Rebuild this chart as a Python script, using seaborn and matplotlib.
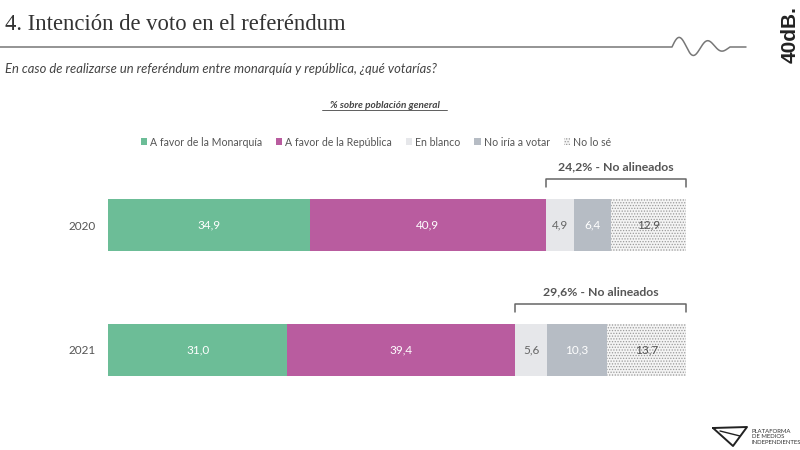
import matplotlib
matplotlib.use("Agg")
import matplotlib.pyplot as plt
from matplotlib.patches import Patch
from matplotlib.lines import Line2D
import numpy as np
import pandas as pd
import seaborn as sns

# data
years = ["2020", "2021"]
categories = ["A favor de la Monarquía", "A favor de la República", "En blanco",
              "No iría a votar", "No lo sé"]
monarquia = [34.9, 31.0]
republica = [40.9, 39.4]
en_blanco = [4.9, 5.6]
no_votar = [6.4, 10.3]
no_sabe = [12.9, 13.7]

colors = ["#6cbd97", "#b95c9f", "#e6e7ea", "#b6bcc4", "#f4f4f4"]
text_colors = ["white", "white", "#666666", "white", "#555555"]

sns.set_theme(style="white")
plt.rcParams["font.family"] = ["Lato", "DejaVu Sans"]
plt.rcParams["hatch.linewidth"] = 0.6

series = [monarquia, republica, en_blanco, no_votar, no_sabe]
vals = np.array(series)
cum = np.cumsum(vals, axis=0)

fig = plt.figure(figsize=(8, 4.5), dpi=100)
ax = fig.add_axes([108 / 800, 1 - 400 / 450, 578 / 800, 240 / 450])

# stacked bars: draw cumulative totals from the outside in
for i in range(len(categories) - 1, -1, -1):
    df = pd.DataFrame({"year": years, "value": cum[i]})
    sns.barplot(data=df, x="value", y="year", orient="h", color=colors[i],
                width=0.42, saturation=1, ax=ax)
    if i == len(categories) - 1:
        for p in ax.patches:
            p.set_hatch("......")
            p.set_edgecolor("#9a9a9a")

for p in ax.patches:
    p.set_linewidth(0)

# value labels
for j in range(len(years)):
    for i in range(len(categories)):
        left = cum[i, j] - vals[i, j]
        ax.text(left + vals[i, j] / 2, j, f"{vals[i, j]:.1f}".replace(".", ","),
                ha="center", va="center", fontsize=8.5, color=text_colors[i])

# "No alineados" brackets
for j in range(len(years)):
    start = cum[1, j]
    end = cum[-1, j]
    total = vals[2:, j].sum()
    ytop = j - 0.37
    ax.plot([start, start, end, end], [ytop + 0.065, ytop, ytop, ytop + 0.065],
            color="#666666", lw=1.1, clip_on=False)
    ax.text((start + end) / 2, ytop - 0.05, f"{total:.1f}".replace(".", ",") + "% - No alineados",
            ha="center", va="bottom", fontsize=8.8, fontweight="bold", color="#555555")

ax.set_xlim(0, 100)
ax.set_ylim(1.4, -0.52)
ax.set_xlabel("")
ax.set_ylabel("")
ax.set_xticks([])
ax.tick_params(axis="y", length=0, pad=9, labelsize=8.5, labelcolor="#555555")
sns.despine(ax=ax, left=True, bottom=True)

# legend
handles = []
for i, c in enumerate(colors):
    if i == len(colors) - 1:
        handles.append(Patch(facecolor=c, edgecolor="#9a9a9a", hatch="......", linewidth=0))
    else:
        handles.append(Patch(facecolor=c, linewidth=0))
fig.legend(handles, categories, loc="center", bbox_to_anchor=(376 / 800, 1 - 142 / 450),
           ncol=5, frameon=False, fontsize=7.6, handlelength=0.6, handleheight=0.6,
           handletextpad=0.3, columnspacing=1.3, labelcolor="#555555")

# header
fig.text(5 / 800, 1 - 25 / 450, "4. Intención de voto en el referéndum",
         family="Liberation Serif", fontsize=16.3, color="#333333", va="center")
fig.text(5 / 800, 1 - 69 / 450,
         "En caso de realizarse un referéndum entre monarquía y república, ¿qué votarías?",
         fontsize=9.4, style="italic", color="#444444", va="center")
fig.text(385 / 800, 1 - 105 / 450, "% sobre población general", fontsize=7.2,
         style="italic", fontweight="bold", color="#444444", ha="center", va="center")
fig.add_artist(Line2D([322 / 800, 447 / 800], [1 - 110 / 450, 1 - 110 / 450],
                      color="#444444", lw=0.6))

# title rule with squiggle
sx = np.linspace(672, 730, 200)
amp = np.interp(sx, [672, 690, 730], [10, 9, 3])
sy = 47 - amp * np.sin(2 * np.pi * (sx - 672) / 29)
xs = np.concatenate([[0], sx, [746]])
ys = np.concatenate([[47], sy, [47]])
fig.add_artist(Line2D(xs / 800, 1 - ys / 450, color="#777777", lw=1.1))

fig.text(790 / 800, 1 - 35 / 450, "40dB.", rotation=90, fontsize=15,
         family="Liberation Sans", fontweight="bold", color="#222222",
         ha="center", va="center")

# footer logo
fig.text(752 / 800, 1 - 437 / 450, "PLATAFORMA\nDE MEDIOS\nINDEPENDIENTES", fontsize=4.3,
         color="#333333", va="center", linespacing=1.05)
fig.add_artist(Line2D(np.array([713, 747, 733, 713]) / 800,
                      1 - np.array([428, 427, 446, 428]) / 450, color="#222222", lw=1.4))
fig.add_artist(Line2D(np.array([720, 740]) / 800, 1 - np.array([431, 436]) / 450,
                      color="#222222", lw=1.0))

fig.savefig("out.png", dpi=100)
